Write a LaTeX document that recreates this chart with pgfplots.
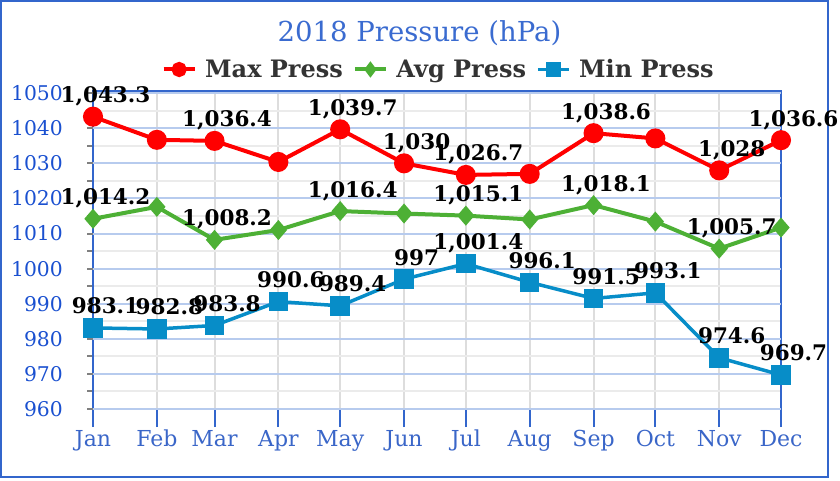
\documentclass[border=0pt]{standalone}
\usepackage{fontspec}
\setmainfont{DejaVu Serif}
\usepackage{pgfplots}
\pgfplotsset{compat=1.18}

\definecolor{frameblue}{HTML}{3366CC}
\definecolor{titleblue}{HTML}{3A6BD0}
\definecolor{ylabblue}{HTML}{1A50D0}
\definecolor{xlabblue}{HTML}{3A66C8}
\definecolor{majgrid}{HTML}{B7CBEE}
\definecolor{mingrid}{HTML}{EBEBEB}
\definecolor{vgrid}{HTML}{DDDDDD}
\definecolor{maxred}{HTML}{FF0000}
\definecolor{avggreen}{HTML}{4DB035}
\definecolor{minblue}{HTML}{078DC8}
\definecolor{legtext}{HTML}{333333}

\begin{document}
\begin{tikzpicture}[x=1pt,y=1pt]
\path[use as bounding box] (0,0) rectangle (840,480);
\draw[frameblue, line width=2pt] (1,3.5) rectangle (827.7,479);
\node[anchor=base, text=titleblue, font=\fontsize{27.5}{32}\selectfont, inner sep=0pt]
  at (419.5,438.3) {2018 Pressure (hPa)};
\begin{axis}[
  at={(93pt,71pt)}, anchor=south west,
  scale only axis, width=688pt, height=318.3pt,
  xmin=0, xmax=334, ymin=960, ymax=1050.7,
  clip=false,
  xtick={0,31,59,90,120,151,181,212,243,273,304,334},
  xticklabels={Jan,Feb,Mar,Apr,May,Jun,Jul,Aug,Sep,Oct,Nov,Dec},
  ytick={960,970,...,1050},
  minor ytick={965,975,...,1045},
  xtick pos=left, ytick pos=left,
  xmajorgrids, yminorgrids,
  major grid style={vgrid, line width=2pt},
  minor grid style={mingrid, line width=2pt},
  extra y ticks={960,970,...,1050},
  extra y tick labels={},
  extra y tick style={ymajorgrids=true, major grid style={majgrid, line width=2pt}},
  axis line style={frameblue, line width=2pt},
  tick align=outside,
  major tick length=18pt, minor tick length=6pt,
  xtick style={frameblue, line width=2pt},
  ytick style={gray, line width=2pt, /pgfplots/major tick length=6pt},
  xticklabel style={text=xlabblue, font=\fontsize{22}{26}\selectfont, anchor=base, inner sep=0pt, yshift=-19pt},
  yticklabel style={text=ylabblue, font=\fontsize{20.3}{24}\selectfont, anchor=east, inner sep=0pt, xshift=-12pt,
    /pgf/number format/1000 sep={}, /pgf/number format/assume math mode=true},
  nodes near coords,
  point meta=explicit symbolic,
  every node near coord/.append style={font=\bfseries\fontsize{21.5}{25}\selectfont, text=black,
    anchor=base, inner sep=0pt, xshift=12.5pt, yshift=14pt},
  legend columns=3,
  legend style={at={(0.0995,1.0666)}, anchor=west, draw=none, fill=none, inner sep=0pt,
    column sep=8.5pt, /tikz/every even column/.append style={column sep=10pt},
    font=\bfseries\fontsize{24}{28}\selectfont, text=legtext,
    nodes={inner sep=0pt}},
  legend image code/.code={\draw[mark repeat=2, mark phase=2, #1, mark options={scale=0.7}]
    plot coordinates {(0pt,0pt) (15.5pt,0pt) (31pt,0pt)};},
]
\addplot[maxred, line width=4pt, mark=*, mark size=8pt] coordinates {
  (0,1043.3) [1,043.3]
  (31,1036.7) []
  (59,1036.4) [1,036.4]
  (90,1030.4) []
  (120,1039.7) [1,039.7]
  (151,1030) [1,030]
  (181,1026.7) [1,026.7]
  (212,1027.0) []
  (243,1038.6) [1,038.6]
  (273,1037.1) []
  (304,1028) [1,028]
  (334,1036.6) [1,036.6]
};
\addlegendentry{Max Press}
\addplot[avggreen, line width=4pt, mark=diamond*, mark size=7pt, mark options={xscale=1.15}] coordinates {
  (0,1014.2) [1,014.2]
  (31,1017.6) []
  (59,1008.2) [1,008.2]
  (90,1011.0) []
  (120,1016.4) [1,016.4]
  (151,1015.7) []
  (181,1015.1) [1,015.1]
  (212,1014.0) []
  (243,1018.1) [1,018.1]
  (273,1013.4) []
  (304,1005.7) [1,005.7]
  (334,1011.7) []
};
\addlegendentry{Avg Press}
\addplot[minblue, line width=3.5pt, mark=square*, mark size=8pt] coordinates {
  (0,983.1) [983.1]
  (31,982.8) [982.8]
  (59,983.8) [983.8]
  (90,990.6) [990.6]
  (120,989.4) [989.4]
  (151,997) [997]
  (181,1001.4) [1,001.4]
  (212,996.1) [996.1]
  (243,991.5) [991.5]
  (273,993.1) [993.1]
  (304,974.6) [974.6]
  (334,969.7) [969.7]
};
\addlegendentry{Min Press}
\end{axis}
\end{tikzpicture}
\end{document}
